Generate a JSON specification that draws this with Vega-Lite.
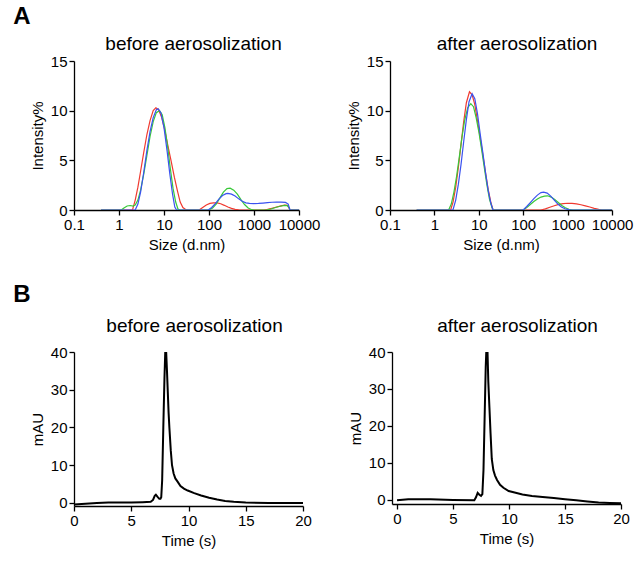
{
  "$schema": "https://vega.github.io/schema/vega-lite/v6.json",
  "padding": {"left": 13, "top": 5, "right": 5, "bottom": 5},
  "background": "white",
  "config": {
    "font": "Liberation Sans",
    "view": {"stroke": null},
    "axis": {"domainColor": "black", "tickColor": "black", "labelColor": "black", "titleColor": "black", "labelFontSize": 15, "titleFontSize": 15, "titleFontWeight": "normal", "grid": false, "tickSize": 5, "domainWidth": 1.3, "tickWidth": 1.3, "labelPadding": 2, "labelFlush": false, "labelOverlap": false, "titlePadding": 5},
    "title": {"fontSize": 19, "fontWeight": "normal", "color": "black"},
    "line": {"strokeWidth": 1.2}
  },
  "datasets": {
    "dlsBefore": [
      {"size": 0.398, "intensity": 0, "run": "1"}, {"size": 1.995, "intensity": 0, "run": "1"}, {"size": 2.291, "intensity": 1.0, "run": "1"}, {"size": 2.630, "intensity": 2.3, "run": "1"}, {"size": 3.020, "intensity": 3.9, "run": "1"}, {"size": 3.548, "intensity": 5.8, "run": "1"}, {"size": 4.169, "intensity": 7.6, "run": "1"}, {"size": 4.898, "intensity": 9.0, "run": "1"}, {"size": 5.754, "intensity": 10.0, "run": "1"}, {"size": 6.607, "intensity": 10.3, "run": "1"}, {"size": 7.586, "intensity": 10.1, "run": "1"}, {"size": 8.913, "intensity": 9.3, "run": "1"}, {"size": 10.47, "intensity": 8.0, "run": "1"}, {"size": 12.30, "intensity": 6.4, "run": "1"}, {"size": 14.45, "intensity": 4.9, "run": "1"}, {"size": 16.98, "intensity": 3.3, "run": "1"}, {"size": 19.95, "intensity": 1.9, "run": "1"}, {"size": 22.91, "intensity": 0.8, "run": "1"}, {"size": 26.30, "intensity": 0.25, "run": "1"}, {"size": 30.20, "intensity": 0.05, "run": "1"}, {"size": 33.88, "intensity": 0, "run": "1"}, {"size": 60.26, "intensity": 0, "run": "1"}, {"size": 72.44, "intensity": 0.25, "run": "1"}, {"size": 87.10, "intensity": 0.5, "run": "1"}, {"size": 104.7, "intensity": 0.66, "run": "1"}, {"size": 125.9, "intensity": 0.72, "run": "1"}, {"size": 151.4, "intensity": 0.72, "run": "1"}, {"size": 182.0, "intensity": 0.63, "run": "1"}, {"size": 218.8, "intensity": 0.47, "run": "1"}, {"size": 263.0, "intensity": 0.3, "run": "1"}, {"size": 316.2, "intensity": 0.16, "run": "1"}, {"size": 380.2, "intensity": 0.06, "run": "1"}, {"size": 457.1, "intensity": 0.01, "run": "1"}, {"size": 512.9, "intensity": 0, "run": "1"}, {"size": 1660, "intensity": 0, "run": "1"}, {"size": 1995, "intensity": 0.06, "run": "1"}, {"size": 2512, "intensity": 0.18, "run": "1"}, {"size": 3162, "intensity": 0.3, "run": "1"}, {"size": 3981, "intensity": 0.42, "run": "1"}, {"size": 4786, "intensity": 0.5, "run": "1"}, {"size": 5495, "intensity": 0.48, "run": "1"}, {"size": 6026, "intensity": 0.2, "run": "1"}, {"size": 6310, "intensity": 0, "run": "1"}, {"size": 10000, "intensity": 0, "run": "1"},
      {"size": 0.398, "intensity": 0, "run": "2"}, {"size": 1.122, "intensity": 0, "run": "2"}, {"size": 1.288, "intensity": 0.2, "run": "2"}, {"size": 1.514, "intensity": 0.4, "run": "2"}, {"size": 1.778, "intensity": 0.45, "run": "2"}, {"size": 2.042, "intensity": 0.4, "run": "2"}, {"size": 2.291, "intensity": 0.5, "run": "2"}, {"size": 2.630, "intensity": 1.0, "run": "2"}, {"size": 3.020, "intensity": 2.0, "run": "2"}, {"size": 3.548, "intensity": 3.6, "run": "2"}, {"size": 4.169, "intensity": 5.5, "run": "2"}, {"size": 4.898, "intensity": 7.4, "run": "2"}, {"size": 5.754, "intensity": 8.9, "run": "2"}, {"size": 6.761, "intensity": 9.8, "run": "2"}, {"size": 7.943, "intensity": 10.0, "run": "2"}, {"size": 9.120, "intensity": 9.6, "run": "2"}, {"size": 10.47, "intensity": 8.3, "run": "2"}, {"size": 12.02, "intensity": 6.4, "run": "2"}, {"size": 13.80, "intensity": 4.2, "run": "2"}, {"size": 15.85, "intensity": 2.2, "run": "2"}, {"size": 18.20, "intensity": 0.8, "run": "2"}, {"size": 20.42, "intensity": 0.1, "run": "2"}, {"size": 22.39, "intensity": 0, "run": "2"}, {"size": 100, "intensity": 0, "run": "2"}, {"size": 120.2, "intensity": 0.2, "run": "2"}, {"size": 144.5, "intensity": 0.6, "run": "2"}, {"size": 173.8, "intensity": 1.2, "run": "2"}, {"size": 208.9, "intensity": 1.8, "run": "2"}, {"size": 251.2, "intensity": 2.15, "run": "2"}, {"size": 295.1, "intensity": 2.2, "run": "2"}, {"size": 354.8, "intensity": 2.0, "run": "2"}, {"size": 426.6, "intensity": 1.6, "run": "2"}, {"size": 512.9, "intensity": 1.05, "run": "2"}, {"size": 616.6, "intensity": 0.55, "run": "2"}, {"size": 741.3, "intensity": 0.2, "run": "2"}, {"size": 891.3, "intensity": 0.03, "run": "2"}, {"size": 1000, "intensity": 0, "run": "2"}, {"size": 1862, "intensity": 0, "run": "2"}, {"size": 2399, "intensity": 0.1, "run": "2"}, {"size": 3020, "intensity": 0.25, "run": "2"}, {"size": 3802, "intensity": 0.38, "run": "2"}, {"size": 4786, "intensity": 0.47, "run": "2"}, {"size": 5495, "intensity": 0.45, "run": "2"}, {"size": 6026, "intensity": 0.2, "run": "2"}, {"size": 6310, "intensity": 0, "run": "2"}, {"size": 10000, "intensity": 0, "run": "2"},
      {"size": 0.398, "intensity": 0, "run": "3"}, {"size": 2.291, "intensity": 0, "run": "3"}, {"size": 2.630, "intensity": 0.6, "run": "3"}, {"size": 3.020, "intensity": 1.8, "run": "3"}, {"size": 3.548, "intensity": 3.8, "run": "3"}, {"size": 4.169, "intensity": 6.0, "run": "3"}, {"size": 4.898, "intensity": 7.9, "run": "3"}, {"size": 5.754, "intensity": 9.3, "run": "3"}, {"size": 6.761, "intensity": 10.1, "run": "3"}, {"size": 7.413, "intensity": 10.2, "run": "3"}, {"size": 8.511, "intensity": 9.8, "run": "3"}, {"size": 10, "intensity": 8.3, "run": "3"}, {"size": 11.75, "intensity": 5.9, "run": "3"}, {"size": 13.49, "intensity": 3.6, "run": "3"}, {"size": 15.49, "intensity": 1.6, "run": "3"}, {"size": 17.38, "intensity": 0.3, "run": "3"}, {"size": 19.05, "intensity": 0, "run": "3"}, {"size": 95.50, "intensity": 0, "run": "3"}, {"size": 114.8, "intensity": 0.25, "run": "3"}, {"size": 138.0, "intensity": 0.65, "run": "3"}, {"size": 166.0, "intensity": 1.1, "run": "3"}, {"size": 199.5, "intensity": 1.45, "run": "3"}, {"size": 239.9, "intensity": 1.65, "run": "3"}, {"size": 263.0, "intensity": 1.68, "run": "3"}, {"size": 316.2, "intensity": 1.6, "run": "3"}, {"size": 380.2, "intensity": 1.4, "run": "3"}, {"size": 457.1, "intensity": 1.12, "run": "3"}, {"size": 549.5, "intensity": 0.88, "run": "3"}, {"size": 660.7, "intensity": 0.72, "run": "3"}, {"size": 794.3, "intensity": 0.66, "run": "3"}, {"size": 1000, "intensity": 0.65, "run": "3"}, {"size": 1259, "intensity": 0.66, "run": "3"}, {"size": 1585, "intensity": 0.7, "run": "3"}, {"size": 1995, "intensity": 0.74, "run": "3"}, {"size": 2512, "intensity": 0.78, "run": "3"}, {"size": 3162, "intensity": 0.8, "run": "3"}, {"size": 3981, "intensity": 0.8, "run": "3"}, {"size": 5012, "intensity": 0.76, "run": "3"}, {"size": 5754, "intensity": 0.6, "run": "3"}, {"size": 6310, "intensity": 0, "run": "3"}, {"size": 10000, "intensity": 0, "run": "3"}
    ],
    "dlsAfter": [
      {"size": 0.398, "intensity": 0, "run": "1"}, {"size": 2.317, "intensity": 0, "run": "1"}, {"size": 2.630, "intensity": 0.8, "run": "1"}, {"size": 3.020, "intensity": 2.3, "run": "1"}, {"size": 3.467, "intensity": 4.3, "run": "1"}, {"size": 3.981, "intensity": 6.6, "run": "1"}, {"size": 4.571, "intensity": 8.9, "run": "1"}, {"size": 5.248, "intensity": 10.8, "run": "1"}, {"size": 6.166, "intensity": 11.9, "run": "1"}, {"size": 7.079, "intensity": 11.6, "run": "1"}, {"size": 8.128, "intensity": 10.6, "run": "1"}, {"size": 9.333, "intensity": 9.0, "run": "1"}, {"size": 10.72, "intensity": 7.3, "run": "1"}, {"size": 12.30, "intensity": 5.6, "run": "1"}, {"size": 14.13, "intensity": 3.8, "run": "1"}, {"size": 16.22, "intensity": 2.1, "run": "1"}, {"size": 18.62, "intensity": 0.8, "run": "1"}, {"size": 20.89, "intensity": 0, "run": "1"}, {"size": 251.2, "intensity": 0, "run": "1"}, {"size": 316.2, "intensity": 0.12, "run": "1"}, {"size": 398.1, "intensity": 0.28, "run": "1"}, {"size": 501.2, "intensity": 0.43, "run": "1"}, {"size": 631.0, "intensity": 0.56, "run": "1"}, {"size": 794.3, "intensity": 0.64, "run": "1"}, {"size": 1000, "intensity": 0.68, "run": "1"}, {"size": 1259, "intensity": 0.67, "run": "1"}, {"size": 1585, "intensity": 0.62, "run": "1"}, {"size": 1995, "intensity": 0.53, "run": "1"}, {"size": 2512, "intensity": 0.42, "run": "1"}, {"size": 3162, "intensity": 0.3, "run": "1"}, {"size": 3981, "intensity": 0.17, "run": "1"}, {"size": 5012, "intensity": 0.06, "run": "1"}, {"size": 5888, "intensity": 0, "run": "1"}, {"size": 10000, "intensity": 0, "run": "1"},
      {"size": 0.398, "intensity": 0, "run": "2"}, {"size": 2.089, "intensity": 0, "run": "2"}, {"size": 2.399, "intensity": 0.6, "run": "2"}, {"size": 2.754, "intensity": 1.8, "run": "2"}, {"size": 3.162, "intensity": 3.4, "run": "2"}, {"size": 3.631, "intensity": 5.3, "run": "2"}, {"size": 4.169, "intensity": 7.3, "run": "2"}, {"size": 4.786, "intensity": 9.0, "run": "2"}, {"size": 5.623, "intensity": 10.3, "run": "2"}, {"size": 6.607, "intensity": 10.7, "run": "2"}, {"size": 7.586, "intensity": 10.4, "run": "2"}, {"size": 8.710, "intensity": 9.3, "run": "2"}, {"size": 10, "intensity": 7.9, "run": "2"}, {"size": 11.48, "intensity": 6.2, "run": "2"}, {"size": 13.18, "intensity": 4.4, "run": "2"}, {"size": 15.14, "intensity": 2.6, "run": "2"}, {"size": 17.38, "intensity": 1.1, "run": "2"}, {"size": 19.95, "intensity": 0.2, "run": "2"}, {"size": 21.38, "intensity": 0, "run": "2"}, {"size": 100, "intensity": 0, "run": "2"}, {"size": 120.2, "intensity": 0.25, "run": "2"}, {"size": 144.5, "intensity": 0.55, "run": "2"}, {"size": 173.8, "intensity": 0.85, "run": "2"}, {"size": 208.9, "intensity": 1.1, "run": "2"}, {"size": 251.2, "intensity": 1.3, "run": "2"}, {"size": 302.0, "intensity": 1.4, "run": "2"}, {"size": 354.8, "intensity": 1.43, "run": "2"}, {"size": 426.6, "intensity": 1.3, "run": "2"}, {"size": 512.9, "intensity": 1.05, "run": "2"}, {"size": 616.6, "intensity": 0.75, "run": "2"}, {"size": 741.3, "intensity": 0.45, "run": "2"}, {"size": 891.3, "intensity": 0.22, "run": "2"}, {"size": 1072, "intensity": 0.07, "run": "2"}, {"size": 1318, "intensity": 0, "run": "2"}, {"size": 10000, "intensity": 0, "run": "2"},
      {"size": 0.398, "intensity": 0, "run": "3"}, {"size": 2.618, "intensity": 0, "run": "3"}, {"size": 3.020, "intensity": 1.0, "run": "3"}, {"size": 3.467, "intensity": 2.6, "run": "3"}, {"size": 3.981, "intensity": 4.6, "run": "3"}, {"size": 4.571, "intensity": 6.9, "run": "3"}, {"size": 5.248, "intensity": 9.1, "run": "3"}, {"size": 6.026, "intensity": 10.9, "run": "3"}, {"size": 7.079, "intensity": 11.7, "run": "3"}, {"size": 8.128, "intensity": 11.2, "run": "3"}, {"size": 9.333, "intensity": 9.7, "run": "3"}, {"size": 10.72, "intensity": 7.7, "run": "3"}, {"size": 12.30, "intensity": 5.8, "run": "3"}, {"size": 14.13, "intensity": 3.8, "run": "3"}, {"size": 16.22, "intensity": 2.0, "run": "3"}, {"size": 18.62, "intensity": 0.7, "run": "3"}, {"size": 20.89, "intensity": 0, "run": "3"}, {"size": 100, "intensity": 0, "run": "3"}, {"size": 120.2, "intensity": 0.35, "run": "3"}, {"size": 144.5, "intensity": 0.75, "run": "3"}, {"size": 173.8, "intensity": 1.15, "run": "3"}, {"size": 208.9, "intensity": 1.5, "run": "3"}, {"size": 251.2, "intensity": 1.75, "run": "3"}, {"size": 288.4, "intensity": 1.8, "run": "3"}, {"size": 346.7, "intensity": 1.7, "run": "3"}, {"size": 416.9, "intensity": 1.4, "run": "3"}, {"size": 501.2, "intensity": 1.0, "run": "3"}, {"size": 602.6, "intensity": 0.6, "run": "3"}, {"size": 724.4, "intensity": 0.3, "run": "3"}, {"size": 871.0, "intensity": 0.12, "run": "3"}, {"size": 1047, "intensity": 0.03, "run": "3"}, {"size": 1202, "intensity": 0, "run": "3"}, {"size": 10000, "intensity": 0, "run": "3"}
    ],
    "hplcBefore": [
      {"time": 0, "mAU": -0.4}, {"time": 1, "mAU": -0.2}, {"time": 2, "mAU": 0}, {"time": 3, "mAU": 0.1}, {"time": 4, "mAU": 0.1}, {"time": 5, "mAU": 0.1}, {"time": 6, "mAU": 0.2}, {"time": 6.7, "mAU": 0.3}, {"time": 6.9, "mAU": 0.8}, {"time": 7.05, "mAU": 1.9}, {"time": 7.15, "mAU": 2.2}, {"time": 7.3, "mAU": 1.6}, {"time": 7.45, "mAU": 1.1}, {"time": 7.55, "mAU": 1.1}, {"time": 7.62, "mAU": 1.5}, {"time": 7.7, "mAU": 6}, {"time": 7.8, "mAU": 20}, {"time": 7.9, "mAU": 33}, {"time": 7.97, "mAU": 40}, {"time": 8.05, "mAU": 40}, {"time": 8.12, "mAU": 35}, {"time": 8.19, "mAU": 29.5}, {"time": 8.26, "mAU": 24}, {"time": 8.33, "mAU": 20}, {"time": 8.45, "mAU": 14}, {"time": 8.56, "mAU": 10}, {"time": 8.7, "mAU": 7.8}, {"time": 8.85, "mAU": 6.5}, {"time": 9.06, "mAU": 5.6}, {"time": 9.3, "mAU": 4.5}, {"time": 9.6, "mAU": 3.8}, {"time": 9.93, "mAU": 3.3}, {"time": 10.5, "mAU": 2.6}, {"time": 11.1, "mAU": 2.0}, {"time": 11.8, "mAU": 1.4}, {"time": 12.5, "mAU": 0.9}, {"time": 13.2, "mAU": 0.55}, {"time": 13.95, "mAU": 0.3}, {"time": 15, "mAU": 0.1}, {"time": 17, "mAU": 0}, {"time": 20, "mAU": 0}
    ],
    "hplcAfter": [
      {"time": 0, "mAU": -0.2}, {"time": 1, "mAU": 0.1}, {"time": 3, "mAU": 0.1}, {"time": 5, "mAU": -0.1}, {"time": 6.9, "mAU": -0.2}, {"time": 7.05, "mAU": 0.6}, {"time": 7.2, "mAU": 1.8}, {"time": 7.35, "mAU": 1.3}, {"time": 7.5, "mAU": 1.0}, {"time": 7.62, "mAU": 1.5}, {"time": 7.72, "mAU": 8}, {"time": 7.82, "mAU": 22}, {"time": 7.92, "mAU": 36}, {"time": 7.97, "mAU": 40}, {"time": 8.08, "mAU": 40}, {"time": 8.15, "mAU": 32}, {"time": 8.25, "mAU": 25}, {"time": 8.35, "mAU": 18}, {"time": 8.46, "mAU": 11}, {"time": 8.6, "mAU": 8}, {"time": 8.75, "mAU": 6.5}, {"time": 8.93, "mAU": 5.3}, {"time": 9.2, "mAU": 4.0}, {"time": 9.5, "mAU": 3.2}, {"time": 9.97, "mAU": 2.3}, {"time": 10.5, "mAU": 1.9}, {"time": 11.2, "mAU": 1.4}, {"time": 12.05, "mAU": 1.0}, {"time": 13, "mAU": 0.7}, {"time": 14, "mAU": 0.4}, {"time": 15, "mAU": 0.1}, {"time": 16, "mAU": -0.2}, {"time": 17, "mAU": -0.5}, {"time": 18, "mAU": -0.8}, {"time": 19, "mAU": -0.9}, {"time": 20, "mAU": -1.0}
    ]
  },
  "spacing": 31,
  "vconcat": [
    {
      "title": {"text": "A", "anchor": "start", "fontSize": 24, "fontWeight": "bold", "dx": -17, "offset": 6},
      "bounds": "flush",
      "spacing": 91,
      "hconcat": [
        {
          "width": 225, "height": 149,
          "title": {"text": "before aerosolization", "frame": "group", "dx": 7, "offset": 0},
          "data": {"name": "dlsBefore"},
          "mark": {"type": "line", "clip": true},
          "encoding": {
            "x": {"field": "size", "type": "quantitative", "scale": {"type": "log", "domain": [0.1, 10000]}, "axis": {"title": "Size (d.nm)", "values": [0.1, 1, 10, 100, 1000, 10000], "labelExpr": "format(datum.value, '~g')"}},
            "y": {"field": "intensity", "type": "quantitative", "scale": {"domain": [0, 15]}, "axis": {"title": "Intensity%", "values": [0, 5, 10, 15]}},
            "color": {"field": "run", "type": "nominal", "scale": {"domain": ["1", "2", "3"], "range": ["#f03a30", "#38c838", "#3a52f0"]}, "legend": null}
          }
        },
        {
          "width": 222, "height": 149,
          "title": {"text": "after aerosolization", "frame": "group", "dx": 16, "offset": 0},
          "data": {"name": "dlsAfter"},
          "mark": {"type": "line", "clip": true},
          "encoding": {
            "x": {"field": "size", "type": "quantitative", "scale": {"type": "log", "domain": [0.1, 10000]}, "axis": {"title": "Size (d.nm)", "values": [0.1, 1, 10, 100, 1000, 10000], "labelExpr": "format(datum.value, '~g')"}},
            "y": {"field": "intensity", "type": "quantitative", "scale": {"domain": [0, 15]}, "axis": {"title": "Intensity%", "values": [0, 5, 10, 15]}},
            "color": {"field": "run", "type": "nominal", "scale": {"domain": ["1", "2", "3"], "range": ["#f03a30", "#38c838", "#3a52f0"]}, "legend": null}
          }
        }
      ]
    },
    {
      "title": {"text": "B", "anchor": "start", "fontSize": 24, "fontWeight": "bold", "dx": -17, "offset": 10},
      "bounds": "flush",
      "spacing": 89,
      "hconcat": [
        {
          "width": 229, "height": 154,
          "title": {"text": "before aerosolization", "frame": "group", "dx": 6, "offset": 9},
          "data": {"name": "hplcBefore"},
          "mark": {"type": "line", "color": "black", "strokeWidth": 2, "clip": true},
          "encoding": {
            "x": {"field": "time", "type": "quantitative", "scale": {"domain": [0, 20]}, "axis": {"title": "Time (s)", "values": [0, 5, 10, 15, 20]}},
            "y": {"field": "mAU", "type": "quantitative", "scale": {"domain": [-0.8, 40]}, "axis": {"title": "mAU", "values": [0, 10, 20, 30, 40]}}
          }
        },
        {
          "width": 229, "height": 152,
          "title": {"text": "after aerosolization", "frame": "group", "dx": 11, "offset": 9},
          "data": {"name": "hplcAfter"},
          "mark": {"type": "line", "color": "black", "strokeWidth": 2, "clip": true},
          "encoding": {
            "x": {"field": "time", "type": "quantitative", "scale": {"domain": [-0.45, 20]}, "axis": {"title": "Time (s)", "values": [0, 5, 10, 15, 20]}},
            "y": {"field": "mAU", "type": "quantitative", "scale": {"domain": [-1.2, 40]}, "axis": {"title": "mAU", "values": [0, 10, 20, 30, 40]}}
          }
        }
      ]
    }
  ]
}
